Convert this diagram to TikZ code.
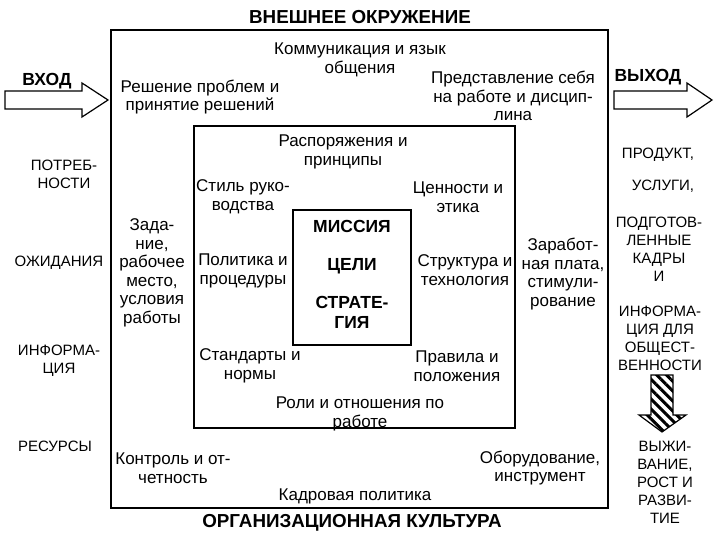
\documentclass[tikz,border=0pt]{standalone}
\usepackage{fontspec}
\setmainfont{Liberation Sans}
\usetikzlibrary{patterns.meta}
\tikzset{
	txt/.style = {
		align=center,
		inner sep=0pt,
		font=\fontsize{17}{18.5}\selectfont
	},
	txt_caps/.style = {
		txt,
		font=\fontsize{15}{18}\selectfont
	},
	txt_b/.style = {
		txt,
		font=\fontsize{17.5}{20}\selectfont\bfseries
	},
	txt_title/.style = {
		txt,
		font=\fontsize{18.8}{20}\selectfont\bfseries
	},
	frame/.style = {
		draw=black,
		line width=1.5pt
	},
	block_arrow/.style = {
		draw=black,
		line width=1.2pt,
		fill=white
	},
	hatch_arrow/.style = {
		block_arrow,
		pattern={Lines[angle=-45,distance=7pt,line width=3pt]}
	},
}

\begin{document}
\begin{tikzpicture}[x=1pt,y=-1pt]
\useasboundingbox (0,0) rectangle (720,540);

% frames
\draw [frame] (111,30) rectangle (608,508);
\draw [frame] (194,126) rectangle (515,428);
\draw [frame] (293,210) rectangle (411,345);

% titles
\node [txt_title] (env) at (360,17) {ВНЕШНЕЕ ОКРУЖЕНИЕ};
\node [txt_title] (culture) at (352,523) {ОРГАНИЗАЦИОННАЯ КУЛЬТУРА};

% outer ring
\node [txt] (comm) at (360,60) {Коммуникация и язык\\общения};
\node [txt] (decide) at (200,97) {Решение проблем и\\принятие решений};
\node [txt] (present) at (513,96) {Представление себя\\на работе и дисцип-\\лина};
\node [txt] (task) at (152,273) {Зада-\\ние,\\рабочее\\место,\\условия\\работы};
\node [txt] (pay) at (563,274) {Заработ-\\ная плата,\\стимули-\\рование};
\node [txt] (control) at (173,468) {Контроль и от-\\четность};
\node [txt] (tools) at (540,468) {Оборудование,\\инструмент};
\node [txt] (staff) at (355,496) {Кадровая политика};

% inner ring
\node [txt] (orders) at (343,152) {Распоряжения и\\принципы};
\node [txt] (style) at (243,197) {Стиль руко-\\водства};
\node [txt] (values) at (458,197) {Ценности и\\этика};
\node [txt] (policy) at (243,271) {Политика и\\процедуры};
\node [txt] (struct) at (465,270) {Структура и\\технология};
\node [txt] (norms) at (250,366) {Стандарты и\\нормы};
\node [txt] (rules) at (457,366) {Правила и\\положения};
\node [txt] (roles) at (360,414) {Роли и отношения по\\работе};

% core
\node [txt_b] (mission) at (352,226) {МИССИЯ};
\node [txt_b] (goals) at (352,266) {ЦЕЛИ};
\node [txt_b] (strategy) at (352,312) {СТРАТЕ-\\ГИЯ};

% input
\node [txt_b] (in) at (47,81) {ВХОД};
\draw [block_arrow] (5,91) -- (82,91) -- (82,83) -- (108,100) -- (82,117) -- (82,109) -- (5,109) -- cycle;
\node [txt_caps] (needs) at (64,174) {ПОТРЕБ-\\НОСТИ};
\node [txt_caps] (expect) at (59,263) {ОЖИДАНИЯ};
\node [txt_caps] (info) at (59,361) {ИНФОРМА-\\ЦИЯ};
\node [txt_caps] (res) at (55,446) {РЕСУРСЫ};

% output
\node [txt_b] (out) at (648,77) {ВЫХОД};
\draw [block_arrow] (614,91) -- (687,91) -- (687,83) -- (712,100) -- (687,117) -- (687,109) -- (614,109) -- cycle;
\node [txt_caps] (product) at (658,155) {ПРОДУКТ,};
\node [txt_caps] (service) at (663,186) {УСЛУГИ,};
\node [txt_caps] (trained) at (659,249) {ПОДГОТОВ-\\ЛЕННЫЕ\\КАДРЫ\\И};
\node [txt_caps] (public) at (660,338) {ИНФОРМА-\\ЦИЯ ДЛЯ\\ОБЩЕСТ-\\ВЕННОСТИ};
\draw [hatch_arrow] (651,375) -- (673,375) -- (673,415) -- (686,415) -- (662,432) -- (639,415) -- (651,415) -- cycle;
\node [txt_caps] (survive) at (665,482) {ВЫЖИ-\\ВАНИЕ,\\РОСТ И\\РАЗВИ-\\ТИЕ};
\end{tikzpicture}
\end{document}
